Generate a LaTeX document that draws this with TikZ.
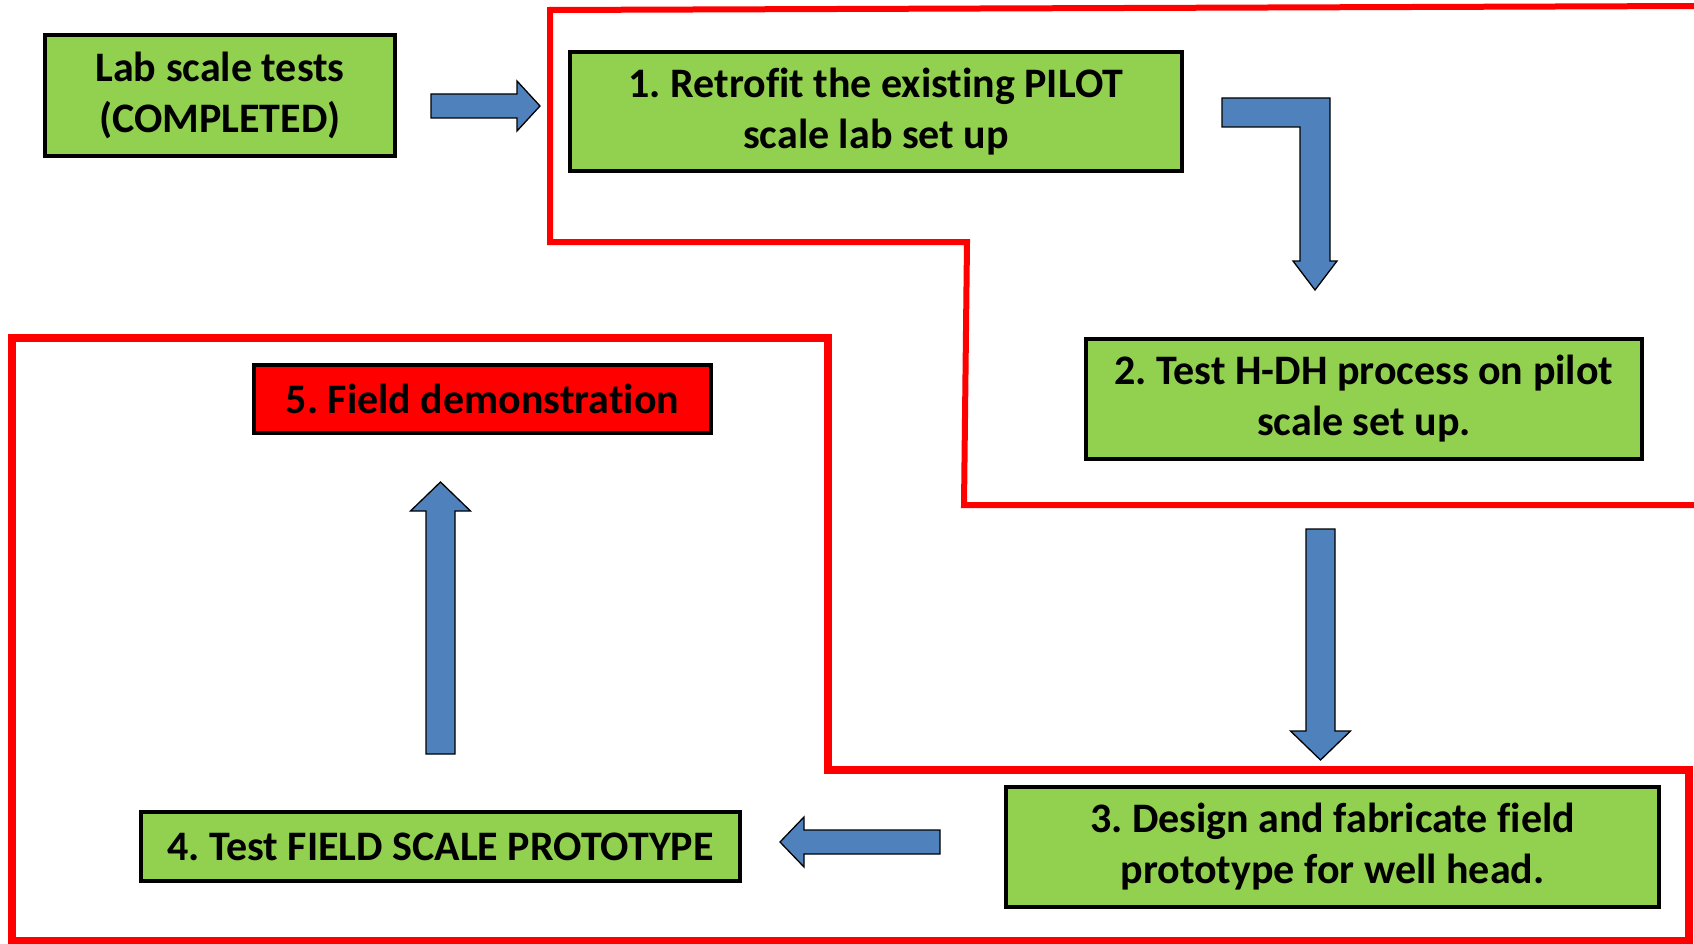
\documentclass[tikz,border=0pt]{standalone}
\usepackage{fontspec}
\setmainfont{Carlito}[Ligatures={NoCommon,NoRare}]
\usetikzlibrary{calc}
\definecolor{boxgreen}{HTML}{92D050}
\definecolor{arrowblue}{HTML}{4F81BD}
\definecolor{framered}{HTML}{FF0000}
\frenchspacing
% block arrow from #1 to #2: shaft half width #3, head half width #4, head length #5
\newcommand{\fatarrow}[5]{%
	\coordinate (hb) at ($(#2)!#5!(#1)$);
	\draw[blockarr] ($(#1)!#3!90:(#2)$) -- ($(hb)!#3!-90:(#1)$) -- ($(hb)!#4!-90:(#1)$) -- (#2)
		-- ($(hb)!#4!90:(#1)$) -- ($(hb)!#3!90:(#1)$) -- ($(#1)!#3!-90:(#2)$) -- cycle;
}

\begin{document}
\begin{tikzpicture}[x=1pt,y=-1pt,
	stepbox/.style={draw=black, line width=4.5pt, fill=boxgreen, align=center, inner sep=0pt,
		font=\fontsize{42}{51}\selectfont\bfseries},
	blockarr/.style={draw=black, line width=1.3pt, fill=arrowblue, line join=miter},
	frame/.style={draw=framered, line width=6pt, line join=miter}]
	\useasboundingbox (0,0) rectangle (1694,944);
	\clip (0,0) rectangle (1694,944);

	% red frames
	\draw[frame] (1700,6) -- (550,10) -- (550,242) -- (967,242) -- (964,505) -- (1700,505);
	\draw[frame, line width=7.5pt] (12,338) -- (828,338) -- (828,770) -- (1689,770) -- (1689,941) -- (12,941) -- cycle;

	% steps
	\node[stepbox, minimum width=350pt, minimum height=121pt] (lab) at (220,95.5) {Lab scale tests\\(COMPLETED)};
	\node[stepbox, minimum width=612pt, minimum height=119pt] (s1) at (876,111.5) {1. Retrofit the existing PILOT\\scale lab set up};
	\node[stepbox, minimum width=556pt, minimum height=120pt] (s2) at (1364,399) {2. Test H-DH process on pilot\\scale set up.};
	\node[stepbox, minimum width=653pt, minimum height=120pt] (s3) at (1332.5,847) {3. Design and fabricate field\\prototype for well head.};
	\node[stepbox, minimum width=599pt, minimum height=69pt] (s4) at (440.5,846.5) {4. Test FIELD SCALE PROTOTYPE};
	\node[stepbox, fill=framered, minimum width=457pt, minimum height=68pt] (s5) at (482.5,399) {5. Field demonstration};

	% arrows
	\coordinate (a1s) at (431,106);
	\coordinate (a1e) at (540,106);
	\fatarrow{a1s}{a1e}{12pt}{25pt}{23pt}
	\draw[blockarr] (1222,98) -- (1330,98) -- (1330,261) -- (1337,261) -- (1315,290)
		-- (1293,261) -- (1300,261) -- (1300,127) -- (1222,127) -- cycle;
	\coordinate (a3s) at (1320.5,529);
	\coordinate (a3e) at (1320.5,760);
	\fatarrow{a3s}{a3e}{14.5pt}{30pt}{29pt}
	\coordinate (a4s) at (940,842);
	\coordinate (a4e) at (780,842);
	\fatarrow{a4s}{a4e}{12pt}{25pt}{24pt}
	\coordinate (a5s) at (440.5,754);
	\coordinate (a5e) at (440.5,482);
	\fatarrow{a5s}{a5e}{14.5pt}{30pt}{29pt}
\end{tikzpicture}
\end{document}
